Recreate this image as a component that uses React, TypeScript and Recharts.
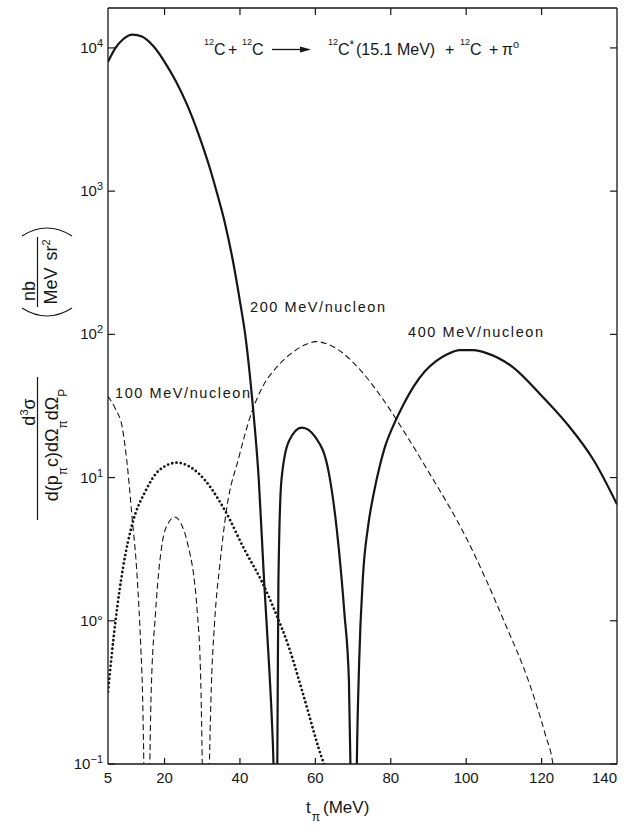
import React from 'react';
import { LineChart, Line, XAxis, YAxis } from 'recharts';

const W = 626;
const H = 833;
const PLOT_TOP = 8;
const PLOT_BOTTOM = 764;
const PLOT_LEFT = 108;
const PLOT_RIGHT = 617;
const X_AXIS_H = 30;
const Y_AXIS_W = 60;
const M = {
  top: PLOT_TOP - 1,
  right: W - PLOT_RIGHT - 1,
  bottom: H - PLOT_BOTTOM - X_AXIS_H,
  left: PLOT_LEFT - Y_AXIS_W,
};
const FONT = '"Liberation Sans", Arial, Helvetica, sans-serif';
const INK = '#161616';

const xTicks = [5, 20, 40, 60, 80, 100, 120, 140];
const yTicks = [0.1, 1, 10, 100, 1000, 10000];
const yTickExp: Record<string, string> = { '0.1': '\u22121', '1': '', '10': '1', '100': '2', '1000': '3', '10000': '4' };
const yDomain = [0.1, 19000];

// solid curve, three lobes
const solidAX = [5, 7, 9, 11.5, 14, 17, 20, 23, 26, 29, 32, 34, 36, 38, 40, 41.5, 43.3, 45, 46.4, 47.7, 48.4, 48.9, 49.4];
const solidAY = [8000, 10000, 11500, 12400, 12000, 10300, 8000, 5850, 4000, 2500, 1450, 950, 600, 340, 170, 95, 34, 9.6, 1.9, 0.5, 0.22, 0.1, 0.02];
const solidBX = [49.6, 49.9, 50.2, 51, 53, 56.4, 60.1, 63.6, 65.7, 67.7, 68.9, 69.3, 69.6];
const solidBY = [0.02, 0.1, 1.9, 9.6, 18, 22.3, 19, 10.7, 4.3, 1.13, 0.38, 0.1, 0.02];
const solidCX = [70.7, 71.0, 71.6, 72.6, 74, 75.5, 77, 78.5, 80.5, 83, 86, 89, 92, 95, 98.3, 102, 105.4, 112.6, 119.5, 126.7, 133.9, 140];
const solidCY = [0.02, 0.1, 0.5, 2, 4.6, 7.8, 11.8, 16.5, 22.5, 31, 43, 55, 65, 72.5, 77.5, 77.5, 74, 58.4, 38.5, 23.8, 13.1, 6.5];

// dashed curve, three lobes
const dashAX = [5, 7, 8.8, 10, 11.3, 12.8, 13.7, 14.2, 14.5, 14.8];
const dashAY = [37, 30, 22.3, 13, 5.6, 1.9, 0.65, 0.28, 0.1, 0.02];
const dashBX = [15.8, 16.1, 16.4, 17.6, 19.5, 21, 22.7, 24.3, 25.9, 28.7, 29.6, 29.9, 30.2];
const dashBY = [0.02, 0.1, 0.28, 1.13, 3.64, 4.8, 5.3, 4.8, 3.64, 1.13, 0.38, 0.15, 0.04];
const dashCX = [31.5, 31.9, 32.3, 33.3, 34.7, 36.4, 39.7, 43, 46, 50, 54, 57, 60, 63, 67, 72, 78, 84, 90, 100, 110, 117, 121, 123, 124];
const dashCY = [0.02, 0.1, 0.28, 1.0, 2.5, 5.9, 13.8, 28, 43, 60, 75, 84, 89, 86, 75, 56, 35, 20, 11, 3.8, 1.0, 0.35, 0.16, 0.1, 0.06];

// dotted curve
const dotX = [5, 7, 9, 11.5, 15, 18.5, 23.3, 29, 36, 41.3, 45.7, 49.5, 53, 56.7, 62.3, 63];
const dotY = [0.32, 1.0, 2.36, 4.8, 8.1, 11.2, 12.7, 10.7, 5.9, 3.1, 1.9, 1.13, 0.65, 0.31, 0.1, 0.09];

const zip = (xs: number[], ys: number[]) => xs.map((x, i) => ({ x, y: ys[i] }));

const BottomTick = (props: any) => {
  const { x, payload } = props;
  const v = payload.value;
  const edge = v === 5 || v === 140;
  return (
    <g>
      {!edge && <line x1={x} x2={x} y1={PLOT_BOTTOM} y2={PLOT_BOTTOM - 6} stroke={INK} strokeWidth={1.2} />}
      <text x={x} y={PLOT_BOTTOM + 19} textAnchor={v === 140 ? 'end' : 'middle'} fontFamily={FONT} fontSize={15} fill={INK}>
        {v}
      </text>
    </g>
  );
};

const TopTick = (props: any) => {
  const { x, payload } = props;
  const v = payload.value;
  if (v === 5 || v === 140) return <g />;
  return <line x1={x} x2={x} y1={PLOT_TOP} y2={PLOT_TOP + 7} stroke={INK} strokeWidth={1.2} />;
};

const LeftTick = (props: any) => {
  const { y, payload } = props;
  const v = payload.value;
  const exp = yTickExp[String(v)];
  return (
    <g>
      <line x1={PLOT_LEFT} x2={PLOT_LEFT + 7} y1={y} y2={y} stroke={INK} strokeWidth={1.2} />
      <text x={PLOT_LEFT - 5} y={y + 5} textAnchor="end" fontFamily={FONT} fontSize={15} fill={INK}>
        {v === 1 ? '10°' : '10'}
        {v !== 1 && (
          <tspan dy={-6} fontSize={11}>
            {exp}
          </tspan>
        )}
      </text>
    </g>
  );
};

const RightTick = (props: any) => {
  const { y } = props;
  return <line x1={PLOT_RIGHT} x2={PLOT_RIGHT - 7} y1={y} y2={y} stroke={INK} strokeWidth={1.2} />;
};

const BASE = 55;

// 12C with the mass number as a leading superscript
const Nuc = ({ x, star }: any) => (
  <text x={x - 9} y={BASE} fontFamily={FONT} fontSize={16} fill={INK}>
    <tspan dy={-10} fontSize={9}>12</tspan>
    <tspan dy={10}>C</tspan>
    {star && (
      <tspan dy={-6} fontSize={12}>*</tspan>
    )}
  </text>
);

const T = ({ x, y, children, size = 16, len }: any) => (
  <text x={x} y={y} fontFamily={FONT} fontSize={size} fill={INK} textLength={len} lengthAdjust={len ? 'spacing' : undefined}>
    {children}
  </text>
);

const Annotations = () => (
  <svg width={W} height={H} style={{ position: 'absolute', left: 0, top: 0, pointerEvents: 'none' }}>
    {/* reaction */}
    <Nuc x={213} />
    <T x={228} y={BASE}>+</T>
    <Nuc x={251} />
    <line x1={272} x2={302} y1={BASE - 5.5} y2={BASE - 5.5} stroke={INK} strokeWidth={1.3} />
    <polygon points={`300,${BASE - 8.5} 311,${BASE - 5.5} 300,${BASE - 2.5}`} fill={INK} />
    <Nuc x={337} star />
    <T x={356} y={BASE}>(15.1 MeV)</T>
    <T x={445} y={BASE}>+</T>
    <Nuc x={469} />
    <T x={489} y={BASE}>+</T>
    <text x={502} y={BASE} fontFamily={FONT} fontSize={16} fill={INK}>
      π<tspan dy={-7} fontSize={11}>o</tspan>
    </text>

    {/* curve labels */}
    <T x={115} y={398} size={14.5} len={135}>100 MeV/nucleon</T>
    <T x={250} y={312} size={14.5} len={135}>200 MeV/nucleon</T>
    <T x={408} y={337} size={14.5} len={135}>400 MeV/nucleon</T>

    {/* x title */}
    <text x={306} y={813} fontFamily={FONT} fontSize={17} fill={INK}>
      t<tspan dx={1} dy={8} fontSize={12}>π</tspan>
      <tspan dx={3} dy={-8}>(MeV)</tspan>
    </text>

    {/* y title: units */}
    <text transform="translate(35,291) rotate(-90)" textAnchor="middle" fontFamily={FONT} fontSize={18} fill={INK}>nb</text>
    <line x1={37.5} x2={37.5} y1={237} y2={307} stroke={INK} strokeWidth={1.2} />
    <text transform="translate(57,272) rotate(-90)" textAnchor="middle" fontFamily={FONT} fontSize={18} fill={INK}>
      MeV<tspan dx={7}>sr</tspan>
      <tspan dy={-7} fontSize={11}>2</tspan>
    </text>
    <path d="M22,236 Q47,220 72,236" fill="none" stroke={INK} strokeWidth={1.1} />
    <path d="M22,308 Q47,324 72,308" fill="none" stroke={INK} strokeWidth={1.1} />

    {/* y title: main fraction */}
    <text transform="translate(35,412) rotate(-90)" textAnchor="middle" fontFamily={FONT} fontSize={18} fill={INK}>
      d<tspan dy={-7} fontSize={11}>3</tspan>
      <tspan dy={7}>σ</tspan>
    </text>
    <line x1={37.5} x2={37.5} y1={377} y2={520} stroke={INK} strokeWidth={1.2} />
    <text transform="translate(58,445) rotate(-90)" textAnchor="middle" fontFamily={FONT} fontSize={18} fill={INK}>
      d(p<tspan dy={9} fontSize={12}>π</tspan>
      <tspan dy={-9}>c)dΩ</tspan>
      <tspan dy={9} fontSize={12}>π</tspan>
      <tspan dy={-9}>dΩ</tspan>
      <tspan dy={9} fontSize={12}>P</tspan>
    </text>
  </svg>
);

const App: React.FC = () => {
  return (
    <div style={{ position: 'absolute', left: 0, top: 0, width: W, height: H, background: '#fff' }}>
      <LineChart width={W} height={H} margin={M}>
        <XAxis
          dataKey="x"
          type="number"
          domain={[5, 140]}
          ticks={xTicks}
          allowDataOverflow
          height={X_AXIS_H}
          tickLine={false}
          tick={<BottomTick />}
          axisLine={{ stroke: INK, strokeWidth: 1.3 }}
          interval={0}
        />
        <XAxis
          xAxisId="top"
          orientation="top"
          dataKey="x"
          type="number"
          domain={[5, 140]}
          ticks={xTicks}
          allowDataOverflow
          height={1}
          tickLine={false}
          tick={<TopTick />}
          axisLine={{ stroke: INK, strokeWidth: 1.3 }}
          interval={0}
        />
        <YAxis
          type="number"
          scale="log"
          domain={yDomain}
          ticks={yTicks}
          allowDataOverflow
          width={Y_AXIS_W}
          tickLine={false}
          tick={<LeftTick />}
          axisLine={{ stroke: INK, strokeWidth: 1.3 }}
          interval={0}
        />
        <YAxis
          yAxisId="right"
          orientation="right"
          type="number"
          scale="log"
          domain={yDomain}
          ticks={yTicks}
          allowDataOverflow
          width={1}
          tickLine={false}
          tick={<RightTick />}
          axisLine={{ stroke: INK, strokeWidth: 1.3 }}
          interval={0}
        />
        <Line data={zip(solidAX, solidAY)} dataKey="y" type="monotone" stroke={INK} strokeWidth={2.2} dot={false} isAnimationActive={false} />
        <Line data={zip(solidBX, solidBY)} dataKey="y" type="monotone" stroke={INK} strokeWidth={2.2} dot={false} isAnimationActive={false} />
        <Line data={zip(solidCX, solidCY)} dataKey="y" type="monotone" stroke={INK} strokeWidth={2.2} dot={false} isAnimationActive={false} />
        <Line data={zip(dashAX, dashAY)} dataKey="y" type="monotone" stroke={INK} strokeWidth={1.1} strokeDasharray="6 3.5" dot={false} isAnimationActive={false} />
        <Line data={zip(dashBX, dashBY)} dataKey="y" type="monotone" stroke={INK} strokeWidth={1.1} strokeDasharray="6 3.5" dot={false} isAnimationActive={false} />
        <Line data={zip(dashCX, dashCY)} dataKey="y" type="monotone" stroke={INK} strokeWidth={1.1} strokeDasharray="6 3.5" dot={false} isAnimationActive={false} />
        <Line data={zip(dotX, dotY)} dataKey="y" type="monotone" stroke={INK} strokeWidth={2.8} strokeDasharray="0 4.3" strokeLinecap="round" dot={false} isAnimationActive={false} />
      </LineChart>
      <Annotations />
    </div>
  );
};

export default App;
